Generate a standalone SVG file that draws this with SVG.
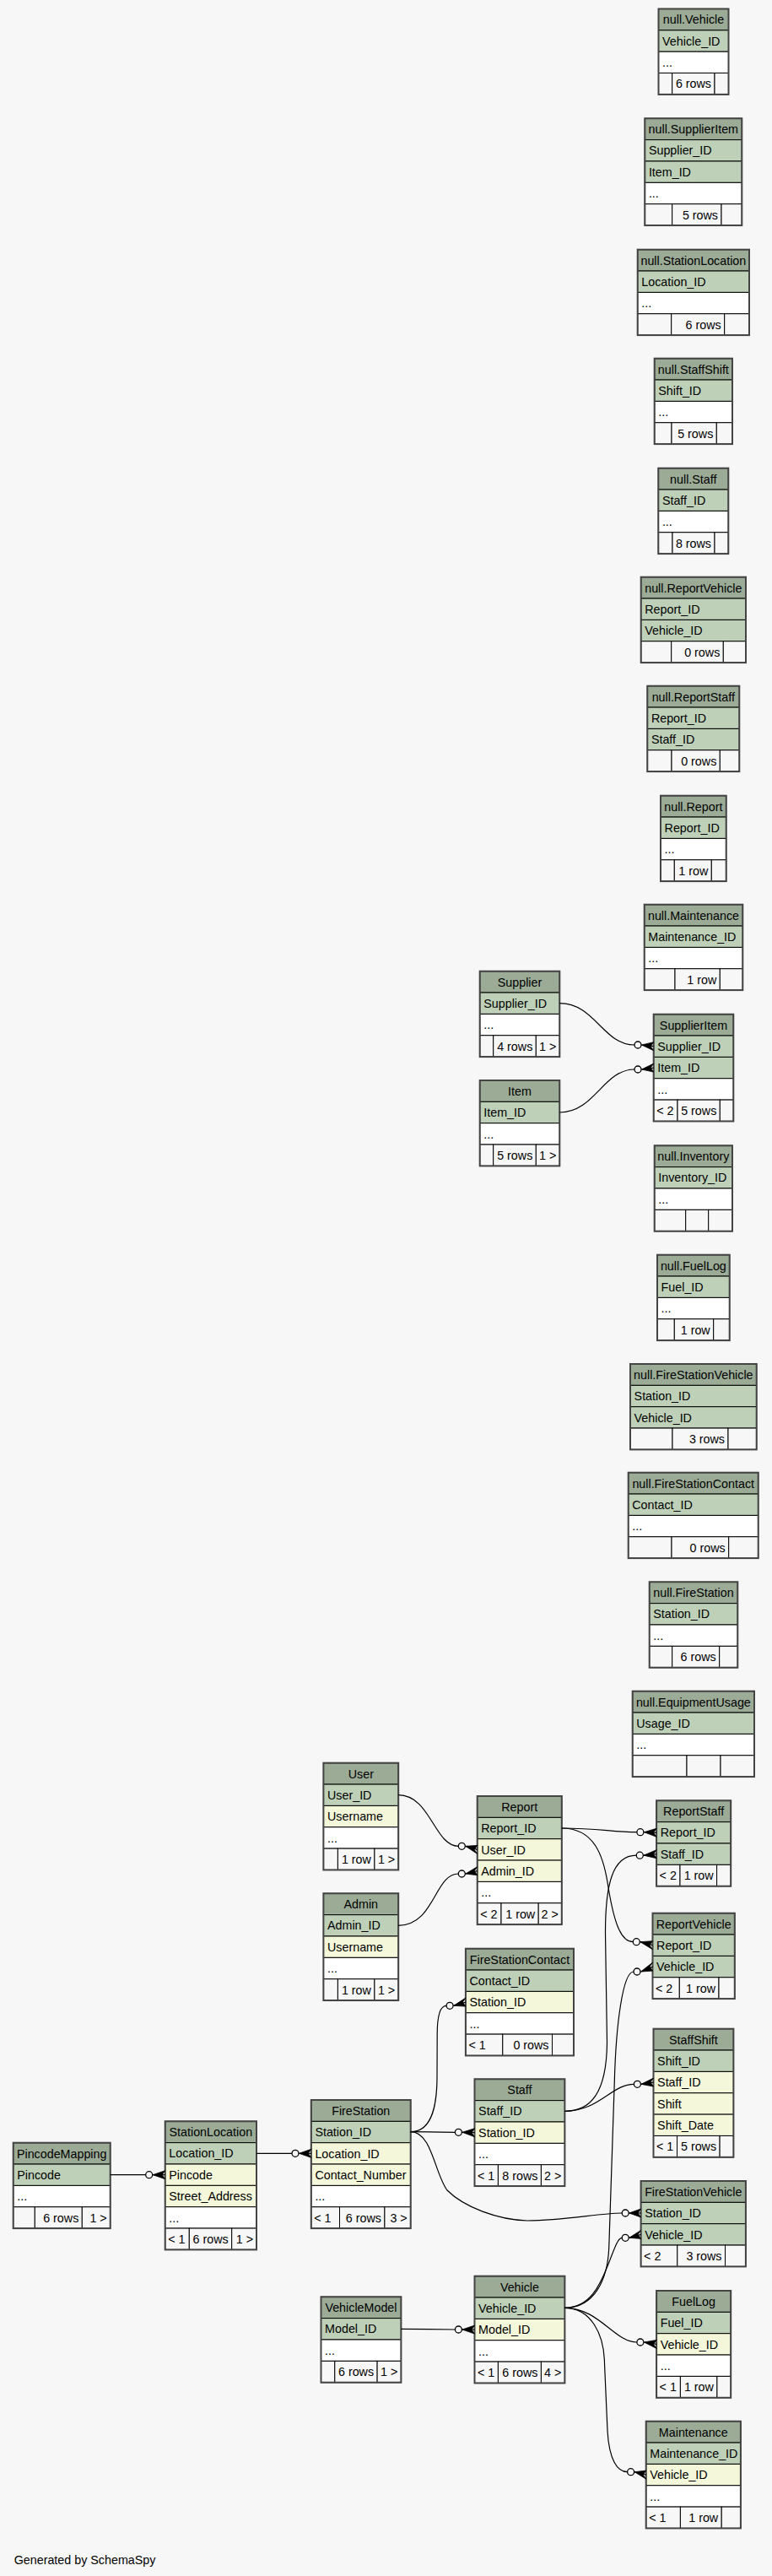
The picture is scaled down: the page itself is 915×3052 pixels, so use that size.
<svg xmlns="http://www.w3.org/2000/svg" width="915" height="3052" viewBox="0 0 915 3052">
<style>
text{font-family:"Liberation Sans",Arial,sans-serif;font-size:14.3px;fill:#000}
.c{text-anchor:middle}.r{text-anchor:end}
rect{stroke:#000;stroke-width:1}
.bg{fill:#f7f7f7;stroke:none}
.h{fill:#9bab96}.pk{fill:#bed1b8}.fk{fill:#f4f7da}.nr{fill:#fff}.ft{fill:#f7f7f7}
.o{fill:none;stroke:#444;stroke-width:2}
.e path{fill:none;stroke:#000;stroke-width:1.2}
.e circle{fill:none;stroke:#000;stroke-width:1.3}
.e polygon{fill:#000;stroke:#000;stroke-width:0.8}
</style>
<rect class="bg" x="0" y="0" width="915" height="3052"/>

<g id="null-Vehicle">
<rect class="h" x="780.5" y="10.5" width="83" height="25.35"/><text class="c" x="822" y="28.3">null.Vehicle</text>
<rect class="pk" x="780.5" y="35.85" width="83" height="25.35"/><text x="785.1" y="53.65">Vehicle_ID</text>
<rect class="nr" x="780.5" y="61.2" width="83" height="25.35"/><text x="785.1" y="79">...</text>
<rect class="ft" x="780.5" y="86.55" width="16.2" height="25.35"/><rect class="ft" x="796.7" y="86.55" width="50.3" height="25.35"/><rect class="ft" x="847" y="86.55" width="16.5" height="25.35"/>
<text class="r" x="843" y="104.35">6 rows</text>
<rect class="o" x="780.5" y="10.5" width="83" height="101.4"/>
</g>

<g id="null-SupplierItem">
<rect class="h" x="764.3" y="140.3" width="115" height="25.35"/><text class="c" x="821.8" y="158.1">null.SupplierItem</text>
<rect class="pk" x="764.3" y="165.65" width="115" height="25.35"/><text x="768.9" y="183.45">Supplier_ID</text>
<rect class="pk" x="764.3" y="191" width="115" height="25.35"/><text x="768.9" y="208.8">Item_ID</text>
<rect class="nr" x="764.3" y="216.35" width="115" height="25.35"/><text x="768.9" y="234.15">...</text>
<rect class="ft" x="764.3" y="241.7" width="32.4" height="25.35"/><rect class="ft" x="796.7" y="241.7" width="58.3" height="25.35"/><rect class="ft" x="855" y="241.7" width="24.3" height="25.35"/>
<text class="r" x="851" y="259.5">5 rows</text>
<rect class="o" x="764.3" y="140.3" width="115" height="126.75"/>
</g>

<g id="null-StationLocation">
<rect class="h" x="755.7" y="295.7" width="132.3" height="25.35"/><text class="c" x="821.85" y="313.5">null.StationLocation</text>
<rect class="pk" x="755.7" y="321.05" width="132.3" height="25.35"/><text x="760.3" y="338.85">Location_ID</text>
<rect class="nr" x="755.7" y="346.4" width="132.3" height="25.35"/><text x="760.3" y="364.2">...</text>
<rect class="ft" x="755.7" y="371.75" width="40" height="25.35"/><rect class="ft" x="795.7" y="371.75" width="63" height="25.35"/><rect class="ft" x="858.7" y="371.75" width="29.3" height="25.35"/>
<text class="r" x="854.7" y="389.55">6 rows</text>
<rect class="o" x="755.7" y="295.7" width="132.3" height="101.4"/>
</g>

<g id="null-StaffShift">
<rect class="h" x="775.7" y="424.7" width="92.3" height="25.35"/><text class="c" x="821.85" y="442.5">null.StaffShift</text>
<rect class="pk" x="775.7" y="450.05" width="92.3" height="25.35"/><text x="780.3" y="467.85">Shift_ID</text>
<rect class="nr" x="775.7" y="475.4" width="92.3" height="25.35"/><text x="780.3" y="493.2">...</text>
<rect class="ft" x="775.7" y="500.75" width="20.3" height="25.35"/><rect class="ft" x="796" y="500.75" width="53.3" height="25.35"/><rect class="ft" x="849.3" y="500.75" width="18.7" height="25.35"/>
<text class="r" x="845.3" y="518.55">5 rows</text>
<rect class="o" x="775.7" y="424.7" width="92.3" height="101.4"/>
</g>

<g id="null-Staff">
<rect class="h" x="780.3" y="554.7" width="83" height="25.35"/><text class="c" x="821.8" y="572.5">null.Staff</text>
<rect class="pk" x="780.3" y="580.05" width="83" height="25.35"/><text x="784.9" y="597.85">Staff_ID</text>
<rect class="nr" x="780.3" y="605.4" width="83" height="25.35"/><text x="784.9" y="623.2">...</text>
<rect class="ft" x="780.3" y="630.75" width="16.7" height="25.35"/><rect class="ft" x="797" y="630.75" width="50" height="25.35"/><rect class="ft" x="847" y="630.75" width="16.3" height="25.35"/>
<text class="r" x="843" y="648.55">8 rows</text>
<rect class="o" x="780.3" y="554.7" width="83" height="101.4"/>
</g>

<g id="null-ReportVehicle">
<rect class="h" x="759.7" y="683.7" width="124.3" height="25.35"/><text class="c" x="821.85" y="701.5">null.ReportVehicle</text>
<rect class="pk" x="759.7" y="709.05" width="124.3" height="25.35"/><text x="764.3" y="726.85">Report_ID</text>
<rect class="pk" x="759.7" y="734.4" width="124.3" height="25.35"/><text x="764.3" y="752.2">Vehicle_ID</text>
<rect class="ft" x="759.7" y="759.75" width="36" height="25.35"/><rect class="ft" x="795.7" y="759.75" width="61.6" height="25.35"/><rect class="ft" x="857.3" y="759.75" width="26.7" height="25.35"/>
<text class="r" x="853.3" y="777.55">0 rows</text>
<rect class="o" x="759.7" y="683.7" width="124.3" height="101.4"/>
</g>

<g id="null-ReportStaff">
<rect class="h" x="767.3" y="812.7" width="109" height="25.35"/><text class="c" x="821.8" y="830.5">null.ReportStaff</text>
<rect class="pk" x="767.3" y="838.05" width="109" height="25.35"/><text x="771.9" y="855.85">Report_ID</text>
<rect class="pk" x="767.3" y="863.4" width="109" height="25.35"/><text x="771.9" y="881.2">Staff_ID</text>
<rect class="ft" x="767.3" y="888.75" width="28.7" height="25.35"/><rect class="ft" x="796" y="888.75" width="57.3" height="25.35"/><rect class="ft" x="853.3" y="888.75" width="23" height="25.35"/>
<text class="r" x="849.3" y="906.55">0 rows</text>
<rect class="o" x="767.3" y="812.7" width="109" height="101.4"/>
</g>

<g id="null-Report">
<rect class="h" x="783" y="942.7" width="77.7" height="25.35"/><text class="c" x="821.85" y="960.5">null.Report</text>
<rect class="pk" x="783" y="968.05" width="77.7" height="25.35"/><text x="787.6" y="985.85">Report_ID</text>
<rect class="nr" x="783" y="993.4" width="77.7" height="25.35"/><text x="787.6" y="1011.2">...</text>
<rect class="ft" x="783" y="1018.75" width="16.3" height="25.35"/><rect class="ft" x="799.3" y="1018.75" width="44" height="25.35"/><rect class="ft" x="843.3" y="1018.75" width="17.4" height="25.35"/>
<text class="r" x="839.3" y="1036.55">1 row</text>
<rect class="o" x="783" y="942.7" width="77.7" height="101.4"/>
</g>

<g id="null-Maintenance">
<rect class="h" x="763.7" y="1071.7" width="116.6" height="25.35"/><text class="c" x="822" y="1089.5">null.Maintenance</text>
<rect class="pk" x="763.7" y="1097.05" width="116.6" height="25.35"/><text x="768.3" y="1114.85">Maintenance_ID</text>
<rect class="nr" x="763.7" y="1122.4" width="116.6" height="25.35"/><text x="768.3" y="1140.2">...</text>
<rect class="ft" x="763.7" y="1147.75" width="36.3" height="25.35"/><rect class="ft" x="800" y="1147.75" width="53.3" height="25.35"/><rect class="ft" x="853.3" y="1147.75" width="27" height="25.35"/>
<text class="r" x="849.3" y="1165.55">1 row</text>
<rect class="o" x="763.7" y="1071.7" width="116.6" height="101.4"/>
</g>

<g id="SupplierItem">
<rect class="h" x="774.7" y="1201.7" width="94.6" height="25.35"/><text class="c" x="822" y="1219.5">SupplierItem</text>
<rect class="pk" x="774.7" y="1227.05" width="94.6" height="25.35"/><text x="779.3" y="1244.85">Supplier_ID</text>
<rect class="pk" x="774.7" y="1252.4" width="94.6" height="25.35"/><text x="779.3" y="1270.2">Item_ID</text>
<rect class="nr" x="774.7" y="1277.75" width="94.6" height="25.35"/><text x="779.3" y="1295.55">...</text>
<rect class="ft" x="774.7" y="1303.1" width="28.3" height="25.35"/><rect class="ft" x="803" y="1303.1" width="50.3" height="25.35"/><rect class="ft" x="853.3" y="1303.1" width="16" height="25.35"/>
<text x="778.2" y="1320.9">&lt; 2</text><text class="r" x="849.3" y="1320.9">5 rows</text>
<rect class="o" x="774.7" y="1201.7" width="94.6" height="126.75"/>
</g>

<g id="Supplier">
<rect class="h" x="568.7" y="1150.7" width="94.6" height="25.35"/><text class="c" x="616" y="1168.5">Supplier</text>
<rect class="pk" x="568.7" y="1176.05" width="94.6" height="25.35"/><text x="573.3" y="1193.85">Supplier_ID</text>
<rect class="nr" x="568.7" y="1201.4" width="94.6" height="25.35"/><text x="573.3" y="1219.2">...</text>
<rect class="ft" x="568.7" y="1226.75" width="16" height="25.35"/><rect class="ft" x="584.7" y="1226.75" width="50.6" height="25.35"/><rect class="ft" x="635.3" y="1226.75" width="28" height="25.35"/>
<text class="r" x="631.3" y="1244.55">4 rows</text><text class="r" x="659.3" y="1244.55">1 &gt;</text>
<rect class="o" x="568.7" y="1150.7" width="94.6" height="101.4"/>
</g>

<g id="Item">
<rect class="h" x="568.7" y="1280" width="94.6" height="25.35"/><text class="c" x="616" y="1297.8">Item</text>
<rect class="pk" x="568.7" y="1305.35" width="94.6" height="25.35"/><text x="573.3" y="1323.15">Item_ID</text>
<rect class="nr" x="568.7" y="1330.7" width="94.6" height="25.35"/><text x="573.3" y="1348.5">...</text>
<rect class="ft" x="568.7" y="1356.05" width="16" height="25.35"/><rect class="ft" x="584.7" y="1356.05" width="50.6" height="25.35"/><rect class="ft" x="635.3" y="1356.05" width="28" height="25.35"/>
<text class="r" x="631.3" y="1373.85">5 rows</text><text class="r" x="659.3" y="1373.85">1 &gt;</text>
<rect class="o" x="568.7" y="1280" width="94.6" height="101.4"/>
</g>

<g id="null-Inventory">
<rect class="h" x="775.7" y="1357.3" width="92.3" height="25.35"/><text class="c" x="821.85" y="1375.1">null.Inventory</text>
<rect class="pk" x="775.7" y="1382.65" width="92.3" height="25.35"/><text x="780.3" y="1400.45">Inventory_ID</text>
<rect class="nr" x="775.7" y="1408" width="92.3" height="25.35"/><text x="780.3" y="1425.8">...</text>
<rect class="ft" x="775.7" y="1433.35" width="37" height="25.35"/><rect class="ft" x="812.7" y="1433.35" width="27" height="25.35"/><rect class="ft" x="839.7" y="1433.35" width="28.3" height="25.35"/>
<rect class="o" x="775.7" y="1357.3" width="92.3" height="101.4"/>
</g>

<g id="null-FuelLog">
<rect class="h" x="779" y="1486.7" width="85.7" height="25.35"/><text class="c" x="821.85" y="1504.5">null.FuelLog</text>
<rect class="pk" x="779" y="1512.05" width="85.7" height="25.35"/><text x="783.6" y="1529.85">Fuel_ID</text>
<rect class="nr" x="779" y="1537.4" width="85.7" height="25.35"/><text x="783.6" y="1555.2">...</text>
<rect class="ft" x="779" y="1562.75" width="20.3" height="25.35"/><rect class="ft" x="799.3" y="1562.75" width="46.4" height="25.35"/><rect class="ft" x="845.7" y="1562.75" width="19" height="25.35"/>
<text class="r" x="841.7" y="1580.55">1 row</text>
<rect class="o" x="779" y="1486.7" width="85.7" height="101.4"/>
</g>

<g id="null-FireStationVehicle">
<rect class="h" x="747" y="1616" width="149.7" height="25.35"/><text class="c" x="821.85" y="1633.8">null.FireStationVehicle</text>
<rect class="pk" x="747" y="1641.35" width="149.7" height="25.35"/><text x="751.6" y="1659.15">Station_ID</text>
<rect class="pk" x="747" y="1666.7" width="149.7" height="25.35"/><text x="751.6" y="1684.5">Vehicle_ID</text>
<rect class="ft" x="747" y="1692.05" width="50" height="25.35"/><rect class="ft" x="797" y="1692.05" width="66" height="25.35"/><rect class="ft" x="863" y="1692.05" width="33.7" height="25.35"/>
<text class="r" x="859" y="1709.85">3 rows</text>
<rect class="o" x="747" y="1616" width="149.7" height="101.4"/>
</g>

<g id="null-FireStationContact">
<rect class="h" x="744.7" y="1744.7" width="154" height="25.35"/><text class="c" x="821.7" y="1762.5">null.FireStationContact</text>
<rect class="pk" x="744.7" y="1770.05" width="154" height="25.35"/><text x="749.3" y="1787.85">Contact_ID</text>
<rect class="nr" x="744.7" y="1795.4" width="154" height="25.35"/><text x="749.3" y="1813.2">...</text>
<rect class="ft" x="744.7" y="1820.75" width="51.3" height="25.35"/><rect class="ft" x="796" y="1820.75" width="67.7" height="25.35"/><rect class="ft" x="863.7" y="1820.75" width="35" height="25.35"/>
<text class="r" x="859.7" y="1838.55">0 rows</text>
<rect class="o" x="744.7" y="1744.7" width="154" height="101.4"/>
</g>

<g id="null-FireStation">
<rect class="h" x="769.7" y="1874.3" width="104.6" height="25.35"/><text class="c" x="822" y="1892.1">null.FireStation</text>
<rect class="pk" x="769.7" y="1899.65" width="104.6" height="25.35"/><text x="774.3" y="1917.45">Station_ID</text>
<rect class="nr" x="769.7" y="1925" width="104.6" height="25.35"/><text x="774.3" y="1942.8">...</text>
<rect class="ft" x="769.7" y="1950.35" width="27" height="25.35"/><rect class="ft" x="796.7" y="1950.35" width="56" height="25.35"/><rect class="ft" x="852.7" y="1950.35" width="21.6" height="25.35"/>
<text class="r" x="848.7" y="1968.15">6 rows</text>
<rect class="o" x="769.7" y="1874.3" width="104.6" height="101.4"/>
</g>

<g id="null-EquipmentUsage">
<rect class="h" x="749.7" y="2003.7" width="144.3" height="25.35"/><text class="c" x="821.85" y="2021.5">null.EquipmentUsage</text>
<rect class="pk" x="749.7" y="2029.05" width="144.3" height="25.35"/><text x="754.3" y="2046.85">Usage_ID</text>
<rect class="nr" x="749.7" y="2054.4" width="144.3" height="25.35"/><text x="754.3" y="2072.2">...</text>
<rect class="ft" x="749.7" y="2079.75" width="64.3" height="25.35"/><rect class="ft" x="814" y="2079.75" width="40" height="25.35"/><rect class="ft" x="854" y="2079.75" width="40" height="25.35"/>
<rect class="o" x="749.7" y="2003.7" width="144.3" height="101.4"/>
</g>

<g id="User">
<rect class="h" x="383.4" y="2088.7" width="88.8" height="25.35"/><text class="c" x="427.8" y="2106.5">User</text>
<rect class="pk" x="383.4" y="2114.05" width="88.8" height="25.35"/><text x="388" y="2131.85">User_ID</text>
<rect class="fk" x="383.4" y="2139.4" width="88.8" height="25.35"/><text x="388" y="2157.2">Username</text>
<rect class="nr" x="383.4" y="2164.75" width="88.8" height="25.35"/><text x="388" y="2182.55">...</text>
<rect class="ft" x="383.4" y="2190.1" width="17" height="25.35"/><rect class="ft" x="400.4" y="2190.1" width="43.5" height="25.35"/><rect class="ft" x="443.9" y="2190.1" width="28.3" height="25.35"/>
<text class="r" x="439.9" y="2207.9">1 row</text><text class="r" x="468.2" y="2207.9">1 &gt;</text>
<rect class="o" x="383.4" y="2088.7" width="88.8" height="126.75"/>
</g>

<g id="Report">
<rect class="h" x="565.7" y="2128" width="100.1" height="25.35"/><text class="c" x="615.75" y="2145.8">Report</text>
<rect class="pk" x="565.7" y="2153.35" width="100.1" height="25.35"/><text x="570.3" y="2171.15">Report_ID</text>
<rect class="fk" x="565.7" y="2178.7" width="100.1" height="25.35"/><text x="570.3" y="2196.5">User_ID</text>
<rect class="fk" x="565.7" y="2204.05" width="100.1" height="25.35"/><text x="570.3" y="2221.85">Admin_ID</text>
<rect class="nr" x="565.7" y="2229.4" width="100.1" height="25.35"/><text x="570.3" y="2247.2">...</text>
<rect class="ft" x="565.7" y="2254.75" width="28.3" height="25.35"/><rect class="ft" x="594" y="2254.75" width="44.2" height="25.35"/><rect class="ft" x="638.2" y="2254.75" width="27.6" height="25.35"/>
<text x="569.2" y="2272.55">&lt; 2</text><text class="r" x="634.2" y="2272.55">1 row</text><text class="r" x="661.8" y="2272.55">2 &gt;</text>
<rect class="o" x="565.7" y="2128" width="100.1" height="152.1"/>
</g>

<g id="Admin">
<rect class="h" x="383.4" y="2243.3" width="88.8" height="25.35"/><text class="c" x="427.8" y="2261.1">Admin</text>
<rect class="pk" x="383.4" y="2268.65" width="88.8" height="25.35"/><text x="388" y="2286.45">Admin_ID</text>
<rect class="fk" x="383.4" y="2294" width="88.8" height="25.35"/><text x="388" y="2311.8">Username</text>
<rect class="nr" x="383.4" y="2319.35" width="88.8" height="25.35"/><text x="388" y="2337.15">...</text>
<rect class="ft" x="383.4" y="2344.7" width="17" height="25.35"/><rect class="ft" x="400.4" y="2344.7" width="43.5" height="25.35"/><rect class="ft" x="443.9" y="2344.7" width="28.3" height="25.35"/>
<text class="r" x="439.9" y="2362.5">1 row</text><text class="r" x="468.2" y="2362.5">1 &gt;</text>
<rect class="o" x="383.4" y="2243.3" width="88.8" height="126.75"/>
</g>

<g id="ReportStaff">
<rect class="h" x="778.1" y="2133.3" width="88.1" height="25.35"/><text class="c" x="822.15" y="2151.1">ReportStaff</text>
<rect class="pk" x="778.1" y="2158.65" width="88.1" height="25.35"/><text x="782.7" y="2176.45">Report_ID</text>
<rect class="pk" x="778.1" y="2184" width="88.1" height="25.35"/><text x="782.7" y="2201.8">Staff_ID</text>
<rect class="ft" x="778.1" y="2209.35" width="27.9" height="25.35"/><rect class="ft" x="806" y="2209.35" width="43.6" height="25.35"/><rect class="ft" x="849.6" y="2209.35" width="16.6" height="25.35"/>
<text x="781.6" y="2227.15">&lt; 2</text><text class="r" x="845.6" y="2227.15">1 row</text>
<rect class="o" x="778.1" y="2133.3" width="88.1" height="101.4"/>
</g>

<g id="ReportVehicle">
<rect class="h" x="773.5" y="2266.7" width="97.3" height="25.35"/><text class="c" x="822.15" y="2284.5">ReportVehicle</text>
<rect class="pk" x="773.5" y="2292.05" width="97.3" height="25.35"/><text x="778.1" y="2309.85">Report_ID</text>
<rect class="pk" x="773.5" y="2317.4" width="97.3" height="25.35"/><text x="778.1" y="2335.2">Vehicle_ID</text>
<rect class="ft" x="773.5" y="2342.75" width="31.8" height="25.35"/><rect class="ft" x="805.3" y="2342.75" width="46.7" height="25.35"/><rect class="ft" x="852" y="2342.75" width="18.8" height="25.35"/>
<text x="777" y="2360.55">&lt; 2</text><text class="r" x="848" y="2360.55">1 row</text>
<rect class="o" x="773.5" y="2266.7" width="97.3" height="101.4"/>
</g>

<g id="FireStationContact">
<rect class="h" x="551.9" y="2308.7" width="128.1" height="25.35"/><text class="c" x="615.95" y="2326.5">FireStationContact</text>
<rect class="pk" x="551.9" y="2334.05" width="128.1" height="25.35"/><text x="556.5" y="2351.85">Contact_ID</text>
<rect class="fk" x="551.9" y="2359.4" width="128.1" height="25.35"/><text x="556.5" y="2377.2">Station_ID</text>
<rect class="nr" x="551.9" y="2384.75" width="128.1" height="25.35"/><text x="556.5" y="2402.55">...</text>
<rect class="ft" x="551.9" y="2410.1" width="43.9" height="25.35"/><rect class="ft" x="595.8" y="2410.1" width="58.7" height="25.35"/><rect class="ft" x="654.5" y="2410.1" width="25.5" height="25.35"/>
<text x="555.4" y="2427.9">&lt; 1</text><text class="r" x="650.5" y="2427.9">0 rows</text>
<rect class="o" x="551.9" y="2308.7" width="128.1" height="126.75"/>
</g>

<g id="StaffShift">
<rect class="h" x="774.5" y="2403.7" width="94.9" height="25.35"/><text class="c" x="821.95" y="2421.5">StaffShift</text>
<rect class="pk" x="774.5" y="2429.05" width="94.9" height="25.35"/><text x="779.1" y="2446.85">Shift_ID</text>
<rect class="fk" x="774.5" y="2454.4" width="94.9" height="25.35"/><text x="779.1" y="2472.2">Staff_ID</text>
<rect class="fk" x="774.5" y="2479.75" width="94.9" height="25.35"/><text x="779.1" y="2497.55">Shift</text>
<rect class="fk" x="774.5" y="2505.1" width="94.9" height="25.35"/><text x="779.1" y="2522.9">Shift_Date</text>
<rect class="ft" x="774.5" y="2530.45" width="28" height="25.35"/><rect class="ft" x="802.5" y="2530.45" width="50.6" height="25.35"/><rect class="ft" x="853.1" y="2530.45" width="16.3" height="25.35"/>
<text x="778" y="2548.25">&lt; 1</text><text class="r" x="849.1" y="2548.25">5 rows</text>
<rect class="o" x="774.5" y="2403.7" width="94.9" height="152.1"/>
</g>

<g id="Staff">
<rect class="h" x="562.5" y="2463.3" width="106.9" height="25.35"/><text class="c" x="615.95" y="2481.1">Staff</text>
<rect class="pk" x="562.5" y="2488.65" width="106.9" height="25.35"/><text x="567.1" y="2506.45">Staff_ID</text>
<rect class="fk" x="562.5" y="2514" width="106.9" height="25.35"/><text x="567.1" y="2531.8">Station_ID</text>
<rect class="nr" x="562.5" y="2539.35" width="106.9" height="25.35"/><text x="567.1" y="2557.15">...</text>
<rect class="ft" x="562.5" y="2564.7" width="27.9" height="25.35"/><rect class="ft" x="590.4" y="2564.7" width="51" height="25.35"/><rect class="ft" x="641.4" y="2564.7" width="28" height="25.35"/>
<text x="566" y="2582.5">&lt; 1</text><text class="r" x="637.4" y="2582.5">8 rows</text><text class="r" x="665.4" y="2582.5">2 &gt;</text>
<rect class="o" x="562.5" y="2463.3" width="106.9" height="126.75"/>
</g>

<g id="FireStation">
<rect class="h" x="368.8" y="2488" width="117.9" height="25.35"/><text class="c" x="427.75" y="2505.8">FireStation</text>
<rect class="pk" x="368.8" y="2513.35" width="117.9" height="25.35"/><text x="373.4" y="2531.15">Station_ID</text>
<rect class="fk" x="368.8" y="2538.7" width="117.9" height="25.35"/><text x="373.4" y="2556.5">Location_ID</text>
<rect class="fk" x="368.8" y="2564.05" width="117.9" height="25.35"/><text x="373.4" y="2581.85">Contact_Number</text>
<rect class="nr" x="368.8" y="2589.4" width="117.9" height="25.35"/><text x="373.4" y="2607.2">...</text>
<rect class="ft" x="368.8" y="2614.75" width="33.7" height="25.35"/><rect class="ft" x="402.5" y="2614.75" width="53.4" height="25.35"/><rect class="ft" x="455.9" y="2614.75" width="30.8" height="25.35"/>
<text x="372.3" y="2632.55">&lt; 1</text><text class="r" x="451.9" y="2632.55">6 rows</text><text class="r" x="482.7" y="2632.55">3 &gt;</text>
<rect class="o" x="368.8" y="2488" width="117.9" height="152.1"/>
</g>

<g id="FireStationVehicle">
<rect class="h" x="759.6" y="2584" width="124.3" height="25.35"/><text class="c" x="821.75" y="2601.8">FireStationVehicle</text>
<rect class="pk" x="759.6" y="2609.35" width="124.3" height="25.35"/><text x="764.2" y="2627.15">Station_ID</text>
<rect class="pk" x="759.6" y="2634.7" width="124.3" height="25.35"/><text x="764.2" y="2652.5">Vehicle_ID</text>
<rect class="ft" x="759.6" y="2660.05" width="43.2" height="25.35"/><rect class="ft" x="802.8" y="2660.05" width="56.7" height="25.35"/><rect class="ft" x="859.5" y="2660.05" width="24.4" height="25.35"/>
<text x="763.1" y="2677.85">&lt; 2</text><text class="r" x="855.5" y="2677.85">3 rows</text>
<rect class="o" x="759.6" y="2584" width="124.3" height="101.4"/>
</g>

<g id="Vehicle">
<rect class="h" x="562.5" y="2696.7" width="106.9" height="25.35"/><text class="c" x="615.95" y="2714.5">Vehicle</text>
<rect class="pk" x="562.5" y="2722.05" width="106.9" height="25.35"/><text x="567.1" y="2739.85">Vehicle_ID</text>
<rect class="fk" x="562.5" y="2747.4" width="106.9" height="25.35"/><text x="567.1" y="2765.2">Model_ID</text>
<rect class="nr" x="562.5" y="2772.75" width="106.9" height="25.35"/><text x="567.1" y="2790.55">...</text>
<rect class="ft" x="562.5" y="2798.1" width="27.9" height="25.35"/><rect class="ft" x="590.4" y="2798.1" width="51" height="25.35"/><rect class="ft" x="641.4" y="2798.1" width="28" height="25.35"/>
<text x="566" y="2815.9">&lt; 1</text><text class="r" x="637.4" y="2815.9">6 rows</text><text class="r" x="665.4" y="2815.9">4 &gt;</text>
<rect class="o" x="562.5" y="2696.7" width="106.9" height="126.75"/>
</g>

<g id="VehicleModel">
<rect class="h" x="380.5" y="2721.3" width="94.9" height="25.35"/><text class="c" x="427.95" y="2739.1">VehicleModel</text>
<rect class="pk" x="380.5" y="2746.65" width="94.9" height="25.35"/><text x="385.1" y="2764.45">Model_ID</text>
<rect class="nr" x="380.5" y="2772" width="94.9" height="25.35"/><text x="385.1" y="2789.8">...</text>
<rect class="ft" x="380.5" y="2797.35" width="16.3" height="25.35"/><rect class="ft" x="396.8" y="2797.35" width="50.3" height="25.35"/><rect class="ft" x="447.1" y="2797.35" width="28.3" height="25.35"/>
<text class="r" x="443.1" y="2815.15">6 rows</text><text class="r" x="471.4" y="2815.15">1 &gt;</text>
<rect class="o" x="380.5" y="2721.3" width="94.9" height="101.4"/>
</g>

<g id="FuelLog">
<rect class="h" x="778.1" y="2714" width="88.1" height="25.35"/><text class="c" x="822.15" y="2731.8">FuelLog</text>
<rect class="pk" x="778.1" y="2739.35" width="88.1" height="25.35"/><text x="782.7" y="2757.15">Fuel_ID</text>
<rect class="fk" x="778.1" y="2764.7" width="88.1" height="25.35"/><text x="782.7" y="2782.5">Vehicle_ID</text>
<rect class="nr" x="778.1" y="2790.05" width="88.1" height="25.35"/><text x="782.7" y="2807.85">...</text>
<rect class="ft" x="778.1" y="2815.4" width="28.3" height="25.35"/><rect class="ft" x="806.4" y="2815.4" width="43.5" height="25.35"/><rect class="ft" x="849.9" y="2815.4" width="16.3" height="25.35"/>
<text x="781.6" y="2833.2">&lt; 1</text><text class="r" x="845.9" y="2833.2">1 row</text>
<rect class="o" x="778.1" y="2714" width="88.1" height="126.75"/>
</g>

<g id="Maintenance">
<rect class="h" x="765.7" y="2868.7" width="112.2" height="25.35"/><text class="c" x="821.8" y="2886.5">Maintenance</text>
<rect class="pk" x="765.7" y="2894.05" width="112.2" height="25.35"/><text x="770.3" y="2911.85">Maintenance_ID</text>
<rect class="fk" x="765.7" y="2919.4" width="112.2" height="25.35"/><text x="770.3" y="2937.2">Vehicle_ID</text>
<rect class="nr" x="765.7" y="2944.75" width="112.2" height="25.35"/><text x="770.3" y="2962.55">...</text>
<rect class="ft" x="765.7" y="2970.1" width="40.7" height="25.35"/><rect class="ft" x="806.4" y="2970.1" width="48.8" height="25.35"/><rect class="ft" x="855.2" y="2970.1" width="22.7" height="25.35"/>
<text x="769.2" y="2987.9">&lt; 1</text><text class="r" x="851.2" y="2987.9">1 row</text>
<rect class="o" x="765.7" y="2868.7" width="112.2" height="126.75"/>
</g>

<g id="PincodeMapping">
<rect class="h" x="15.7" y="2538.7" width="115" height="25.35"/><text class="c" x="73.2" y="2556.5">PincodeMapping</text>
<rect class="pk" x="15.7" y="2564.05" width="115" height="25.35"/><text x="20.3" y="2581.85">Pincode</text>
<rect class="nr" x="15.7" y="2589.4" width="115" height="25.35"/><text x="20.3" y="2607.2">...</text>
<rect class="ft" x="15.7" y="2614.75" width="25.6" height="25.35"/><rect class="ft" x="41.3" y="2614.75" width="56" height="25.35"/><rect class="ft" x="97.3" y="2614.75" width="33.4" height="25.35"/>
<text class="r" x="93.3" y="2632.55">6 rows</text><text class="r" x="126.7" y="2632.55">1 &gt;</text>
<rect class="o" x="15.7" y="2538.7" width="115" height="101.4"/>
</g>

<g id="StationLocation">
<rect class="h" x="195.7" y="2513.3" width="108.3" height="25.35"/><text class="c" x="249.85" y="2531.1">StationLocation</text>
<rect class="pk" x="195.7" y="2538.65" width="108.3" height="25.35"/><text x="200.3" y="2556.45">Location_ID</text>
<rect class="fk" x="195.7" y="2564" width="108.3" height="25.35"/><text x="200.3" y="2581.8">Pincode</text>
<rect class="fk" x="195.7" y="2589.35" width="108.3" height="25.35"/><text x="200.3" y="2607.15">Street_Address</text>
<rect class="nr" x="195.7" y="2614.7" width="108.3" height="25.35"/><text x="200.3" y="2632.5">...</text>
<rect class="ft" x="195.7" y="2640.05" width="28.6" height="25.35"/><rect class="ft" x="224.3" y="2640.05" width="50.4" height="25.35"/><rect class="ft" x="274.7" y="2640.05" width="29.3" height="25.35"/>
<text x="199.2" y="2657.85">&lt; 1</text><text class="r" x="270.7" y="2657.85">6 rows</text><text class="r" x="300" y="2657.85">1 &gt;</text>
<rect class="o" x="195.7" y="2513.3" width="108.3" height="152.1"/>
</g>

<g id="connectors" class="e">
<path d="M663.3,1188.7 C705,1188.7 715,1238 752,1238"/>
<circle cx="756" cy="1238" r="4"/><polygon points="774.7,1234.7 760.5,1238 774.7,1244.7 771.2,1239.7"/><path d="M760.5,1238 L774.7,1239.7"/>

<path d="M663.3,1318 C705,1318 715,1267 752,1267"/>
<circle cx="756" cy="1267" r="4"/><polygon points="774.7,1260.1 760.5,1267 774.7,1270.1 771.2,1265.1"/><path d="M760.5,1267 L774.7,1265.1"/>

<path d="M472.2,2126.7 C510,2126.7 515,2187.3 543.3,2187.3"/>
<circle cx="547.3" cy="2187.3" r="4"/><polygon points="565.7,2186.4 551.8,2187.3 565.7,2196.4 562.2,2191.4"/><path d="M551.8,2187.3 L565.7,2191.4"/>

<path d="M472.2,2281.3 C515,2281.3 515,2220 543.3,2220"/>
<circle cx="547.3" cy="2220" r="4"/><polygon points="565.7,2211.7 551.8,2220 565.7,2221.7 562.2,2216.7"/><path d="M551.8,2220 L565.7,2216.7"/>

<path d="M665.8,2166 C710,2166 725,2170.7 754.9,2170.7"/>
<circle cx="758.9" cy="2170.7" r="4"/><polygon points="778.1,2166.3 763.4,2170.7 778.1,2176.3 774.6,2171.3"/><path d="M763.4,2170.7 L778.1,2171.3"/>

<path d="M665.8,2166 C705,2166 715,2200 720,2230 C727,2275 735,2300.7 750.3,2300.7"/>
<circle cx="754.3" cy="2300.7" r="4"/><polygon points="773.5,2299.7 758.8,2300.7 773.5,2309.7 770,2304.7"/><path d="M758.8,2300.7 L773.5,2304.7"/>

<path d="M669.4,2501.3 C700,2501.3 719,2480 719.5,2420 L717.5,2290 C717.5,2235 725,2198.2 754.3,2198.2"/>
<circle cx="758.3" cy="2198.2" r="4"/><polygon points="778.1,2191.7 762.8,2198.2 778.1,2201.7 774.6,2196.7"/><path d="M762.8,2198.2 L778.1,2196.7"/>

<path d="M669.4,2734.3 C705,2734.3 720,2700 721.7,2664 L728.3,2466 C730,2400 738,2336 751,2336"/>
<circle cx="755" cy="2336" r="4"/><polygon points="773.5,2325.1 759.5,2336 773.5,2335.1 770,2330.1"/><path d="M759.5,2336 L773.5,2330.1"/>

<path d="M486.7,2525.7 C510,2525.7 518,2500 518,2460 L518.2,2410 C518.2,2385 523,2376.3 529.1,2376.3"/>
<circle cx="533.1" cy="2376.3" r="4"/><polygon points="551.9,2367.1 537.6,2376.3 551.9,2377.1 548.4,2372.1"/><path d="M537.6,2376.3 L551.9,2372.1"/>

<path d="M486.7,2525.7 L539.4,2526.3"/>
<circle cx="543.4" cy="2526.3" r="4"/><polygon points="562.5,2521.7 547.9,2526.3 562.5,2531.7 559,2526.7"/><path d="M547.9,2526.3 L562.5,2526.7"/>

<path d="M486.7,2525.7 C512,2525.7 515,2575 530,2595 C550,2615 590,2630 625,2631 C670,2631 710,2622 737.2,2622"/>
<circle cx="741.2" cy="2622" r="4"/><polygon points="759.6,2617 745.7,2622 759.6,2627 756.1,2622"/><path d="M745.7,2622 L759.6,2622"/>

<path d="M669.4,2501.3 C710,2501.3 725,2469.3 751.4,2469.3"/>
<circle cx="755.4" cy="2469.3" r="4"/><polygon points="774.5,2462.1 759.9,2469.3 774.5,2472.1 771,2467.1"/><path d="M759.9,2469.3 L774.5,2467.1"/>

<path d="M304,2551.3 L346,2551.3"/>
<circle cx="350" cy="2551.3" r="4"/><polygon points="368.8,2546.3 354.5,2551.3 368.8,2556.3 365.3,2551.3"/><path d="M354.5,2551.3 L368.8,2551.3"/>

<path d="M130.7,2576.7 L172.7,2576.7"/>
<circle cx="176.7" cy="2576.7" r="4"/><polygon points="195.7,2571.7 181.2,2576.7 195.7,2581.7 192.2,2576.7"/><path d="M181.2,2576.7 L195.7,2576.7"/>

<path d="M475.4,2759.3 L539.4,2760"/>
<circle cx="543.4" cy="2760" r="4"/><polygon points="562.5,2755.1 547.9,2760 562.5,2765.1 559,2760.1"/><path d="M547.9,2760 L562.5,2760.1"/>

<path d="M669.4,2734.3 C700,2734.3 712,2705 720,2685 C728,2665 732,2651.3 737.2,2651.3"/>
<circle cx="741.2" cy="2651.3" r="4"/><polygon points="759.6,2642.4 745.7,2651.3 759.6,2652.4 756.1,2647.4"/><path d="M745.7,2651.3 L759.6,2647.4"/>

<path d="M669.4,2734.3 C710,2734.3 728,2775 754.9,2775"/>
<circle cx="758.9" cy="2775" r="4"/><polygon points="778.1,2772.4 763.4,2775 778.1,2782.4 774.6,2777.4"/><path d="M763.4,2775 L778.1,2777.4"/>

<path d="M669.4,2734.3 C700,2734.3 716,2765 716.5,2800 L720,2880 C722,2915 732,2928.7 743.6,2928.7"/>
<circle cx="747.6" cy="2928.7" r="4"/><polygon points="765.7,2927.1 752.1,2928.7 765.7,2937.1 762.2,2932.1"/><path d="M752.1,2928.7 L765.7,2932.1"/>
</g>

<text x="16.7" y="3038">Generated by SchemaSpy</text>
</svg>
